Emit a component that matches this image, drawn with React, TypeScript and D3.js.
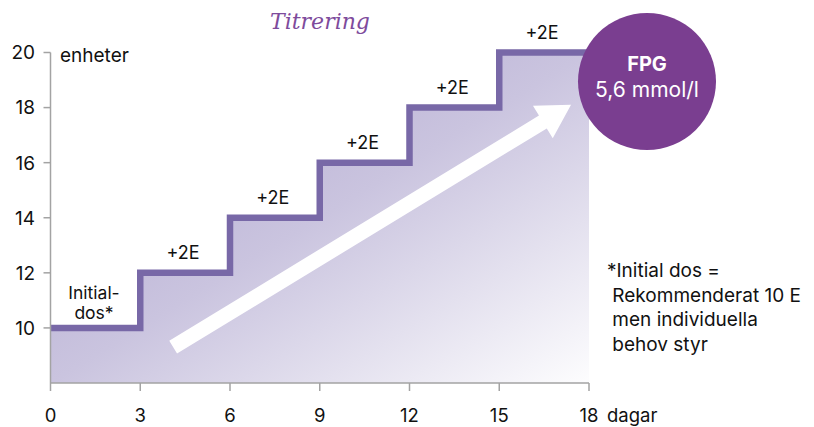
import React from "react";
import * as d3 from "d3";

const days = [0, 3, 6, 9, 12, 15, 18];
const doses = [10, 12, 14, 16, 18, 20, 20];
const xTicks = [0, 3, 6, 9, 12, 15, 18];
const yTicks = [10, 12, 14, 16, 18, 20];
const stepLabels = ["+2E", "+2E", "+2E", "+2E", "+2E"];
const footnote = ["*Initial dos =", " Rekommenderat 10 E", " men individuella", " behov styr"];
const arrowFrom = [4.1, 9.3];
const arrowTo = [17.4, 18.1];

const W = 814;
const H = 427;
const FONT = "Inter, 'Open Sans', sans-serif";

export default function App() {
  const x = d3.scaleLinear().domain([0, 18]).range([50.5, 589]);
  const y = d3.scaleLinear().domain([8, 20]).range([383, 52.5]);
  const data = days.map((d, i) => ({ d, v: doses[i] }));

  const area = d3
    .area<{ d: number; v: number }>()
    .x((p) => x(p.d))
    .y0(y(8))
    .y1((p) => y(p.v))
    .curve(d3.curveStepAfter);
  const line = d3
    .line<{ d: number; v: number }>()
    .x((p) => x(p.d))
    .y((p) => y(p.v))
    .curve(d3.curveStepAfter);

  // arrow geometry
  const sx = x(arrowFrom[0]);
  const sy = y(arrowFrom[1]);
  const tx = x(arrowTo[0]);
  const ty = y(arrowTo[1]);
  const ang = Math.atan2(ty - sy, tx - sx);
  const ux = Math.cos(ang);
  const uy = Math.sin(ang);
  const nx = -uy;
  const ny = ux;
  const shaftW = 15;
  const headL = 33;
  const headW = 38;
  const bx = tx - ux * headL;
  const by = ty - uy * headL;
  const pts = [
    [sx + (nx * shaftW) / 2, sy + (ny * shaftW) / 2],
    [bx + (nx * shaftW) / 2, by + (ny * shaftW) / 2],
    [bx + (nx * headW) / 2, by + (ny * headW) / 2],
    [tx, ty],
    [bx - (nx * headW) / 2, by - (ny * headW) / 2],
    [bx - (nx * shaftW) / 2, by - (ny * shaftW) / 2],
    [sx - (nx * shaftW) / 2, sy - (ny * shaftW) / 2],
  ];

  const axisColor = "#a3a3a3";
  const ink = "#111";

  return (
    <svg
      width={W}
      height={H}
      style={{ position: "absolute", left: 0, top: 0, display: "block" }}
      fontFamily={FONT}
    >
      <defs>
        <linearGradient id="fillGrad" x1="0" y1="0" x2="1" y2="1">
          <stop offset="0" stopColor="#aca1cc" />
          <stop offset="0.5" stopColor="#cac4df" />
          <stop offset="1" stopColor="#fdfdfe" />
        </linearGradient>
      </defs>
      <rect width={W} height={H} fill="#ffffff" />

      <text
        x={320}
        y={29}
        textAnchor="middle"
        fontFamily="'DejaVu Serif', serif"
        fontStyle="italic"
        fontSize={22}
        fill="#7e4b9c"
      >
        Titrering
      </text>

      <path d={area(data) || ""} fill="url(#fillGrad)" />
      <path d={line(data) || ""} fill="none" stroke="#7868a7" strokeWidth={6.5} />

      <polygon points={pts.map((p) => p.join(",")).join(" ")} fill="#ffffff" />

      {/* y axis */}
      <line x1={x(0)} x2={x(0)} y1={y(20)} y2={y(8)} stroke={axisColor} strokeWidth={1.5} />
      {yTicks.map((t) => (
        <g key={t}>
          <line x1={x(0) - 7} x2={x(0)} y1={y(t)} y2={y(t)} stroke={axisColor} strokeWidth={1.5} />
          <text x={35} y={y(t)} dy="0.36em" textAnchor="end" fontSize={19} fill={ink}>
            {t}
          </text>
        </g>
      ))}
      <text x={60} y={62} fontSize={19} fill={ink}>
        enheter
      </text>

      {/* x axis */}
      <line x1={x(0)} x2={x(18)} y1={y(8)} y2={y(8)} stroke={axisColor} strokeWidth={1.5} />
      {xTicks.map((t) => (
        <g key={t}>
          <line x1={x(t)} x2={x(t)} y1={y(8)} y2={y(8) + 8} stroke={axisColor} strokeWidth={1.5} />
          <text x={x(t)} y={422} textAnchor="middle" fontSize={18.5} fill={ink}>
            {t}
          </text>
        </g>
      ))}
      <text x={607} y={422} fontSize={18.5} fill={ink}>
        dagar
      </text>

      {/* step labels */}
      {stepLabels.map((s, i) => (
        <text
          key={i}
          x={x((days[i + 1] + days[i + 2]) / 2) - 2}
          y={y(doses[i + 1]) - 14}
          textAnchor="middle"
          fontSize={18}
          fill={ink}
        >
          {s}
        </text>
      ))}

      <text x={94} y={299} textAnchor="middle" fontSize={17.5} fill={ink}>
        Initial-
      </text>
      <text x={94} y={319} textAnchor="middle" fontSize={17.5} fill={ink}>
        dos*
      </text>

      {/* FPG circle */}
      <ellipse cx={647} cy={81.5} rx={69} ry={68.5} fill="#7a3e90" />
      <text x={647} y={71} textAnchor="middle" fontSize={20} fontWeight="bold" fill="#ffffff">
        FPG
      </text>
      <text x={647} y={97} textAnchor="middle" fontSize={21} fill="#ffffff">
        5,6 mmol/l
      </text>

      {/* footnote */}
      {footnote.map((l, i) => (
        <text key={i} x={607} y={277 + i * 24.5} fontSize={19} fill={ink} xmlSpace="preserve">
          {l}
        </text>
      ))}
    </svg>
  );
}
